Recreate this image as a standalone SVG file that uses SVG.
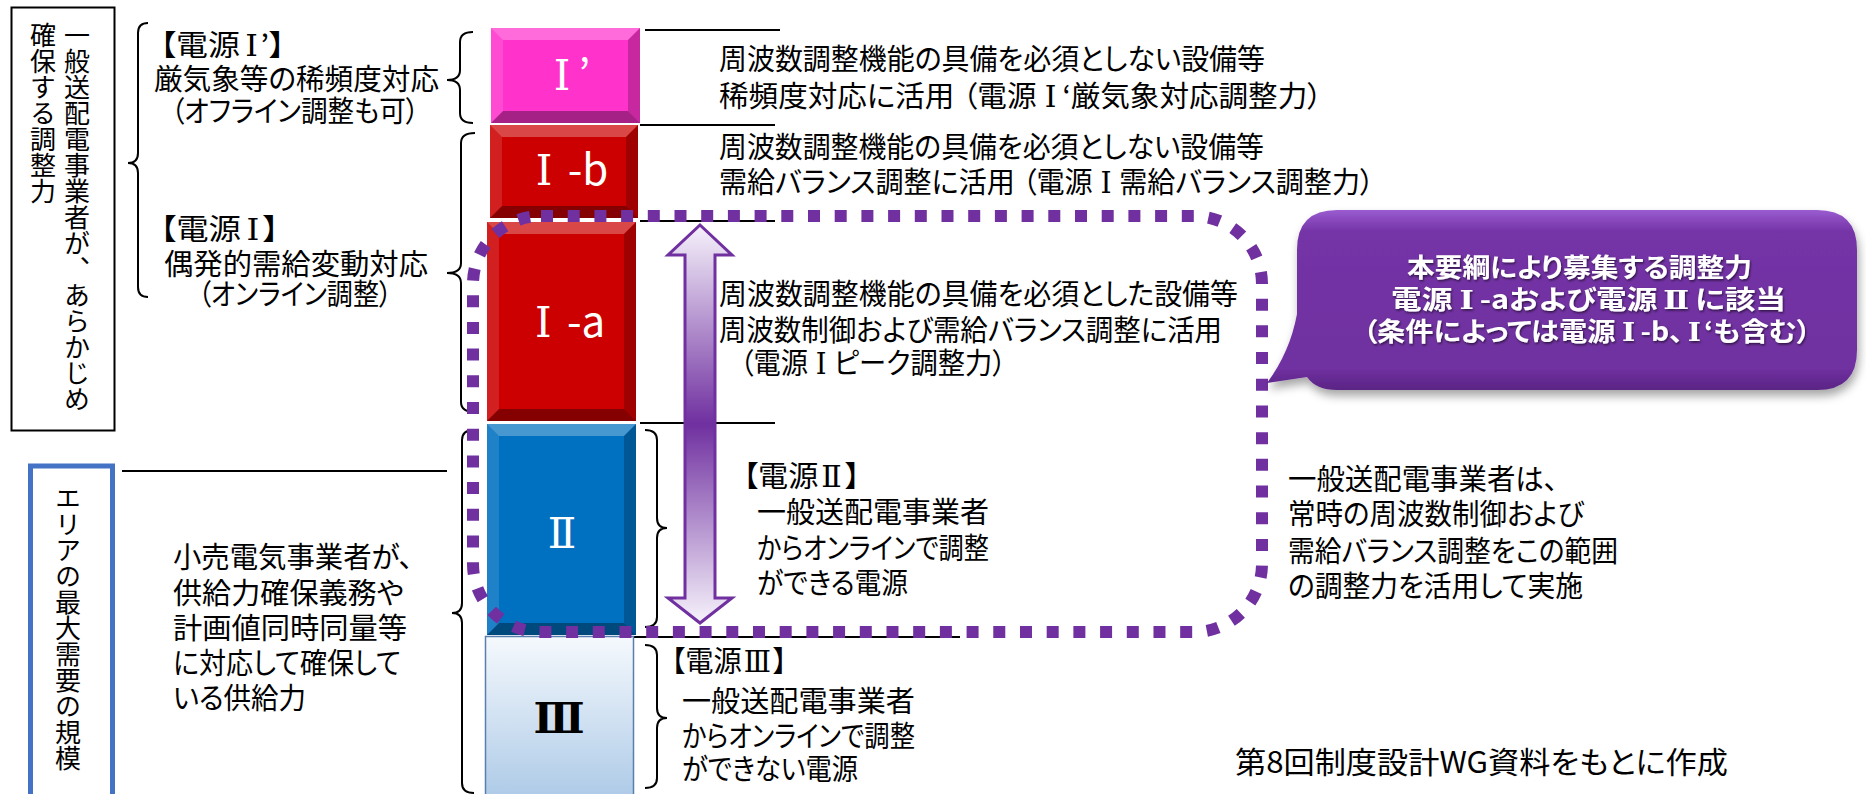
<svg xmlns="http://www.w3.org/2000/svg" width="1866" height="794" viewBox="0 0 1866 794">
<style>
.t{font-family:"Noto Sans CJK JP","Noto Sans CJK SC",sans-serif;font-size:29px;fill:#000;font-feature-settings:"palt";}
.v{font-family:"Noto Sans CJK JP","Noto Sans CJK SC",sans-serif;font-size:26px;fill:#000;writing-mode:vertical-rl;}
.lbl{font-family:"Noto Sans CJK JP","Noto Sans CJK SC",sans-serif;font-size:42px;fill:#fff;text-anchor:middle;}
.cw{font-family:"Noto Sans CJK JP","Noto Sans CJK SC",sans-serif;font-size:26px;font-weight:bold;fill:#fff;font-feature-settings:"palt";}
.rn{font-family:"DejaVu Serif","Liberation Serif",serif;}
.ln{stroke:#000;stroke-width:2;fill:none;}
.br{stroke:#000;stroke-width:2;fill:none;}
.bt{fill:#fff;opacity:.28;}
.bb{fill:#000;opacity:.35;}
.bl{fill:#fff;opacity:.12;}
.bR{fill:#000;opacity:.22;}
</style>
<defs>
<linearGradient id="arrowG" gradientUnits="userSpaceOnUse" x1="0" y1="225" x2="0" y2="623">
<stop offset="0" stop-color="#f6f2fb"/>
<stop offset="0.5" stop-color="#7030A0"/>
<stop offset="1" stop-color="#f6f2fb"/>
</linearGradient>
<linearGradient id="g3" x1="0" y1="0" x2="0" y2="1">
<stop offset="0" stop-color="#f5f9fd"/>
<stop offset="1" stop-color="#aac8e6"/>
</linearGradient>
<linearGradient id="cg" x1="0" y1="0" x2="0" y2="1">
<stop offset="0" stop-color="#9a5cd0"/>
<stop offset="0.12" stop-color="#7434a6"/>
<stop offset="0.88" stop-color="#7030A0"/>
<stop offset="1" stop-color="#5a2485"/>
</linearGradient>
<filter id="sh" x="-10%" y="-10%" width="130%" height="150%">
<feDropShadow dx="2" dy="6" stdDeviation="5" flood-color="#000" flood-opacity="0.35"/>
</filter>
<filter id="ts" x="-5%" y="-20%" width="110%" height="150%">
<feDropShadow dx="1" dy="1.5" stdDeviation="1" flood-color="#000" flood-opacity="0.6"/>
</filter>
</defs>

<g id="label-box-top">
<rect x="11.5" y="7.5" width="103" height="423" fill="#fff" stroke="#000" stroke-width="2"/>
<text class="v" x="77" y="22">一般送配電事業者が、あらかじめ</text>
<text class="v" x="43" y="22">確保する調整力</text>
</g>

<g id="label-box-area">
<rect x="30.5" y="466" width="82" height="400" fill="#fff" stroke="#4472C4" stroke-width="5"/>
<text class="v" x="68" y="485">エリアの最大需要の規模</text>
</g>

<g id="lines">
<line class="ln" x1="645" y1="30" x2="780" y2="30"/>
<line class="ln" x1="640" y1="125" x2="775" y2="125"/>
<line class="ln" x1="640" y1="221" x2="775" y2="221"/>
<line class="ln" x1="640" y1="423" x2="775" y2="423"/>
<line class="ln" x1="603" y1="637" x2="960" y2="637"/>
<line class="ln" x1="122" y1="471" x2="447" y2="471"/>
</g>

<g id="braces">
<path class="br" d="M148 23 Q138 23 138 33 V153 Q138 163 128 163 Q138 163 138 173 V287 Q138 297 148 297"/>
<path class="br" d="M473 32 Q460 32 460 42 V70 Q460 80 447 80 Q460 80 460 90 V113 Q460 123 473 123"/>
<path class="br" d="M475 133 Q461 133 461 143 V263 Q461 273 447 273 Q461 273 461 283 V402 Q461 412 475 412"/>
<path class="br" d="M474 430 Q462 430 462 440 V603 Q462 613 452 613 Q462 613 462 623 V783 Q462 793 474 793"/>
<path class="br" d="M645 430 Q657 430 657 440 V518 Q657 528 667 528 Q657 528 657 538 V617 Q657 627 645 627"/>
<path class="br" d="M645 645 Q657 645 657 655 V708 Q657 718 667 718 Q657 718 657 728 V778 Q657 788 645 788"/>
</g>

<g id="box-I-prime">
<rect x="491" y="28" width="149" height="95" fill="#FF33CC"/>
<polygon class="bt" points="491,28 640,28 628,40 503,40"/>
<polygon class="bb" points="491,123 640,123 628,111 503,111"/>
<polygon class="bl" points="491,28 503,40 503,111 491,123"/>
<polygon class="bR" points="640,28 628,40 628,111 640,123"/>
<text class="lbl" x="572" y="90"><tspan class="rn">Ⅰ</tspan><tspan dx="8">’</tspan></text>
</g>

<g id="box-I-b">
<rect x="490" y="125" width="148" height="93" fill="#CC0000"/>
<polygon class="bt" points="490,125 638,125 626,137 502,137"/>
<polygon class="bb" points="490,218 638,218 626,206 502,206"/>
<polygon class="bl" points="490,125 502,137 502,206 490,218"/>
<polygon class="bR" points="638,125 626,137 626,206 638,218"/>
<text class="lbl" x="572" y="185"><tspan class="rn">Ⅰ</tspan><tspan dx="6"> -b</tspan></text>
</g>

<g id="box-I-a">
<rect x="487" y="222" width="149" height="199" fill="#CC0000"/>
<polygon class="bt" points="487,222 636,222 624,234 499,234"/>
<polygon class="bb" points="487,421 636,421 624,409 499,409"/>
<polygon class="bl" points="487,222 499,234 499,409 487,421"/>
<polygon class="bR" points="636,222 624,234 624,409 636,421"/>
<text class="lbl" x="570" y="337"><tspan class="rn">Ⅰ</tspan><tspan dx="6"> -a</tspan></text>
</g>

<g id="box-II">
<rect x="487" y="424" width="149" height="211" fill="#0070C0"/>
<polygon class="bt" points="487,424 636,424 624,436 499,436"/>
<polygon class="bb" points="487,635 636,635 624,623 499,623"/>
<polygon class="bl" points="487,424 499,436 499,623 487,635"/>
<polygon class="bR" points="636,424 624,436 624,623 636,635"/>
<text class="lbl rn" x="562" y="548">Ⅱ</text>
</g>

<g id="box-III">
<rect x="485.5" y="636.5" width="148" height="170" fill="url(#g3)" stroke="#5a7fae" stroke-width="1.5"/>
<text class="lbl rn" x="559" y="733" style="fill:#000;font-weight:bold">Ⅲ</text>
</g>

<g id="arrow">
<polygon points="700,225 732,255 715,255 715,598 732,598 700,623 668,598 685,598 685,255 668,255" fill="url(#arrowG)" stroke="#7030A0" stroke-width="3" stroke-linejoin="miter"/>
</g>

<g id="dotted-range">
<rect x="473" y="216" width="789" height="416" rx="68" fill="none" stroke="#7030A0" stroke-width="12" stroke-dasharray="12 14.7"/>
</g>

<g id="callout">
<path d="M1337 210 H1817 Q1857 210 1857 250 V350 Q1857 390 1817 390 H1337 Q1316 390 1307 377 L1267 383 Q1290 352 1297 314 V250 Q1297 210 1337 210 Z" fill="url(#cg)" filter="url(#sh)"/>
<g filter="url(#ts)">
<text class="cw" x="1407" y="277" textLength="345" lengthAdjust="spacingAndGlyphs">本要綱により募集する調整力</text>
<text class="cw" x="1391" y="309" textLength="395" lengthAdjust="spacingAndGlyphs">電源<tspan class="rn" dx="6">Ⅰ</tspan><tspan dx="5">-aおよび電源</tspan><tspan class="rn" dx="5">Ⅱ</tspan><tspan dx="5">に該当</tspan></text>
<text class="cw" x="1363" y="341" textLength="448" lengthAdjust="spacingAndGlyphs">（条件によっては電源<tspan class="rn" dx="6">Ⅰ</tspan><tspan dx="5">-b、</tspan><tspan class="rn" dx="4">Ⅰ</tspan><tspan dx="3">‘も含む）</tspan></text>
</g>
</g>

<g id="text-left-top">
<text class="t" x="160" y="56" textLength="125" lengthAdjust="spacingAndGlyphs">【電源<tspan class="rn" dx="5">Ⅰ</tspan><tspan dx="2">’】</tspan></text>
<text class="t" x="154" y="90" textLength="285" lengthAdjust="spacingAndGlyphs">厳気象等の稀頻度対応</text>
<text class="t" x="171" y="122" textLength="248" lengthAdjust="spacingAndGlyphs">（オフライン調整も可）</text>
<text class="t" x="160" y="240" textLength="119" lengthAdjust="spacingAndGlyphs">【電源<tspan class="rn" dx="5">Ⅰ</tspan><tspan dx="3">】</tspan></text>
<text class="t" x="164" y="275" textLength="264" lengthAdjust="spacingAndGlyphs">偶発的需給変動対応</text>
<text class="t" x="198" y="305" textLength="194" lengthAdjust="spacingAndGlyphs">（オンライン調整）</text>
</g>

<g id="text-left-bottom">
<text class="t" x="173" y="568" textLength="240" lengthAdjust="spacingAndGlyphs">小売電気事業者が、</text>
<text class="t" x="173" y="604" textLength="231" lengthAdjust="spacingAndGlyphs">供給力確保義務や</text>
<text class="t" x="173" y="639" textLength="234" lengthAdjust="spacingAndGlyphs">計画値同時同量等</text>
<text class="t" x="173" y="674" textLength="228" lengthAdjust="spacingAndGlyphs">に対応して確保して</text>
<text class="t" x="173" y="709" textLength="133" lengthAdjust="spacingAndGlyphs">いる供給力</text>
</g>

<g id="text-I-prime">
<text class="t" x="719" y="70" textLength="546" lengthAdjust="spacingAndGlyphs">周波数調整機能の具備を必須としない設備等</text>
<text class="t" x="719" y="107" textLength="603" lengthAdjust="spacingAndGlyphs">稀頻度対応に活用<tspan dx="8">（電源</tspan><tspan class="rn" dx="8">Ⅰ</tspan><tspan dx="6">‘厳気象対応調整力）</tspan></text>
</g>

<g id="text-I-b">
<text class="t" x="719" y="158" textLength="545" lengthAdjust="spacingAndGlyphs">周波数調整機能の具備を必須としない設備等</text>
<text class="t" x="719" y="193" textLength="655" lengthAdjust="spacingAndGlyphs">需給バランス調整に活用<tspan dx="8">（電源</tspan><tspan class="rn" dx="8">Ⅰ</tspan><tspan dx="8">需給バランス調整力）</tspan></text>
</g>

<g id="text-I-a">
<text class="t" x="719" y="305" textLength="519" lengthAdjust="spacingAndGlyphs">周波数調整機能の具備を必須とした設備等</text>
<text class="t" x="719" y="341" textLength="503" lengthAdjust="spacingAndGlyphs">周波数制御および需給バランス調整に活用</text>
<text class="t" x="740" y="374" textLength="266" lengthAdjust="spacingAndGlyphs">（電源<tspan class="rn" dx="8">Ⅰ</tspan><tspan dx="8">ピーク調整力）</tspan></text>
</g>

<g id="text-II">
<text class="t" x="743" y="487" textLength="117" lengthAdjust="spacingAndGlyphs">【電源<tspan class="rn" dx="3">Ⅱ</tspan><tspan dx="3">】</tspan></text>
<text class="t" x="757" y="523" textLength="232" lengthAdjust="spacingAndGlyphs">一般送配電事業者</text>
<text class="t" x="757" y="559" textLength="232" lengthAdjust="spacingAndGlyphs">からオンラインで調整</text>
<text class="t" x="757" y="594" textLength="151" lengthAdjust="spacingAndGlyphs">ができる電源</text>
</g>

<g id="text-III">
<text class="t" x="671" y="672" textLength="116" lengthAdjust="spacingAndGlyphs">【電源<tspan class="rn" dx="2">Ⅲ</tspan><tspan dx="2">】</tspan></text>
<text class="t" x="682" y="712" textLength="233" lengthAdjust="spacingAndGlyphs">一般送配電事業者</text>
<text class="t" x="682" y="747" textLength="233" lengthAdjust="spacingAndGlyphs">からオンラインで調整</text>
<text class="t" x="682" y="780" textLength="176" lengthAdjust="spacingAndGlyphs">ができない電源</text>
</g>

<g id="text-right">
<text class="t" x="1288" y="490" textLength="270" lengthAdjust="spacingAndGlyphs">一般送配電事業者は、</text>
<text class="t" x="1288" y="525" textLength="296" lengthAdjust="spacingAndGlyphs">常時の周波数制御および</text>
<text class="t" x="1288" y="562" textLength="330" lengthAdjust="spacingAndGlyphs">需給バランス調整をこの範囲</text>
<text class="t" x="1288" y="597" textLength="295" lengthAdjust="spacingAndGlyphs">の調整力を活用して実施</text>
</g>

<g id="footer">
<text class="t" x="1235" y="773" style="font-size:30px" textLength="493" lengthAdjust="spacingAndGlyphs">第8回制度設計WG資料をもとに作成</text>
</g>
</svg>
